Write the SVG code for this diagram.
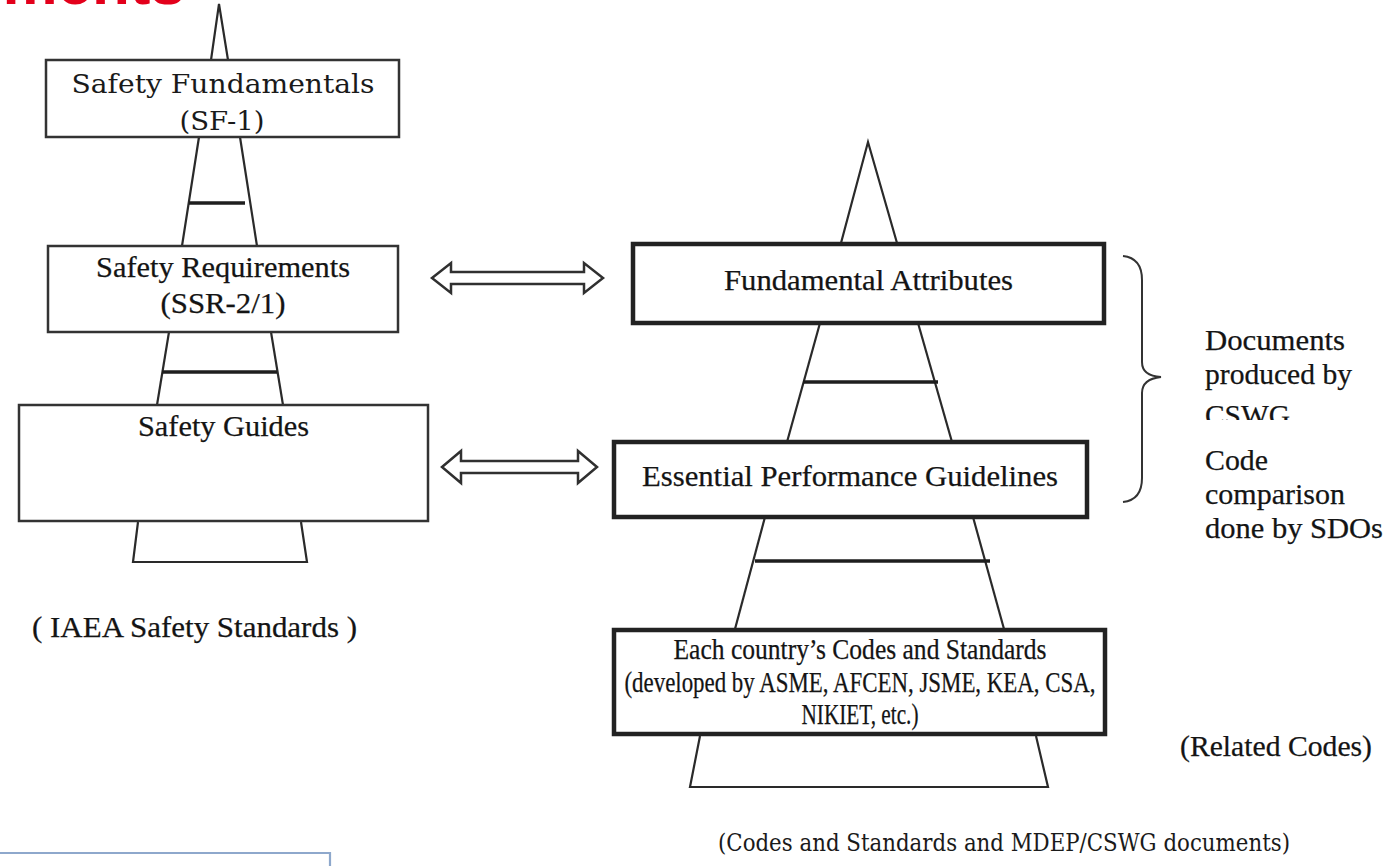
<svg xmlns="http://www.w3.org/2000/svg" width="1391" height="866" viewBox="0 0 1391 866">
  <style>
    .bg { fill: #ffffff; }
    .box { fill: #ffffff; stroke: #333333; stroke-width: 2.5; }
    .boxb { fill: #ffffff; stroke: #222222; stroke-width: 4.5; }
    .pl { fill: none; stroke: #2a2a2a; stroke-width: 2.2; }
    .bar { stroke: #1e1e1e; stroke-width: 3.5; }
    .t { font-family: "Liberation Serif", "Times New Roman", serif; fill: #141414; font-size: 30px; stroke: #141414; stroke-width: 0.25; }
    .tc { font-family: "DejaVu Serif", "Liberation Serif", serif; fill: #1a1a1a; }
    .arrow { fill: #ffffff; stroke: #303030; stroke-width: 2.5; stroke-linejoin: miter; }
    .brace { fill: none; stroke: #333333; stroke-width: 2; }
  </style>
  <defs>
    <clipPath id="cutLine">
      <rect x="1190" y="380" width="201" height="40"/>
    </clipPath>
  </defs>
  <rect class="bg" x="0" y="0" width="1391" height="866"/>

  <!-- cropped heading at the top edge -->
  <text x="185" y="4" text-anchor="end" font-family="Liberation Sans, Arial, sans-serif" font-weight="bold" font-size="62" fill="#e3001b">ments</text>

  <!-- left pyramid outline -->
  <g id="left-pyramid">
    <polyline class="pl" points="211,60 219,4 228,60"/>
    <line class="pl" x1="199" y1="137" x2="182" y2="246"/>
    <line class="pl" x1="240" y1="137" x2="257" y2="246"/>
    <line class="bar" x1="189" y1="203" x2="245" y2="203"/>
    <line class="pl" x1="169" y1="332" x2="157" y2="405"/>
    <line class="pl" x1="271" y1="332" x2="283" y2="405"/>
    <line class="bar" x1="162" y1="372" x2="277" y2="372" stroke-width="4.5"/>
    <polyline class="pl" points="138,522 133,562 307,562 301,522"/>
  </g>

  <g id="node-sf">
    <rect class="box" x="46" y="60" width="353" height="77"/>
    <text class="tc" x="223" y="93" text-anchor="middle" font-size="26" textLength="303" lengthAdjust="spacingAndGlyphs">Safety Fundamentals</text>
    <text class="tc" x="222" y="130" text-anchor="middle" font-size="26" textLength="85" lengthAdjust="spacingAndGlyphs">(SF-1)</text>
  </g>

  <g id="node-sr">
    <rect class="box" x="48" y="246" width="350" height="86"/>
    <text class="t" x="223" y="277" text-anchor="middle" textLength="254" lengthAdjust="spacingAndGlyphs">Safety Requirements</text>
    <text class="t" x="223" y="313" text-anchor="middle" textLength="125" lengthAdjust="spacingAndGlyphs">(SSR-2/1)</text>
  </g>

  <g id="node-sg">
    <rect class="box" x="19" y="405" width="409" height="116"/>
    <text class="t" x="223.5" y="436" text-anchor="middle" textLength="171" lengthAdjust="spacingAndGlyphs">Safety Guides</text>
  </g>

  <g id="label-iaea">
    <text class="t" x="32" y="637" textLength="325" lengthAdjust="spacingAndGlyphs">( IAEA Safety Standards )</text>
  </g>

  <!-- right pyramid outline -->
  <g id="right-pyramid">
    <polyline class="pl" points="841,243 868,142 897,243"/>
    <line class="pl" x1="820" y1="323" x2="787" y2="442"/>
    <line class="pl" x1="918" y1="323" x2="952" y2="442"/>
    <line class="bar" x1="803" y1="382" x2="938" y2="382"/>
    <line class="pl" x1="765" y1="517" x2="735" y2="629"/>
    <line class="pl" x1="973" y1="517" x2="1004" y2="629"/>
    <line class="bar" x1="755" y1="561" x2="990" y2="561"/>
    <polyline class="pl" points="700,736 690,787 1048,787 1036,736"/>
  </g>

  <g id="node-fa">
    <rect class="boxb" x="633" y="244" width="471" height="79"/>
    <text class="t" x="868.5" y="290" text-anchor="middle" textLength="289" lengthAdjust="spacingAndGlyphs">Fundamental Attributes</text>
  </g>

  <g id="node-epg">
    <rect class="boxb" x="614" y="442" width="473" height="75"/>
    <text class="t" x="850" y="486" text-anchor="middle" textLength="416" lengthAdjust="spacingAndGlyphs">Essential Performance Guidelines</text>
  </g>

  <g id="node-codes">
    <rect class="boxb" x="614" y="630" width="491" height="104"/>
    <text class="t" x="860" y="659" text-anchor="middle" font-size="29" textLength="373" lengthAdjust="spacingAndGlyphs">Each country’s Codes and Standards</text>
    <text class="t" x="860" y="692" text-anchor="middle" font-size="29" textLength="471" lengthAdjust="spacingAndGlyphs">(developed by ASME, AFCEN, JSME, KEA, CSA,</text>
    <text class="t" x="860" y="724" text-anchor="middle" font-size="29" textLength="117" lengthAdjust="spacingAndGlyphs">NIKIET, etc.)</text>
  </g>

  <g id="label-related">
    <text class="t" x="1180" y="756" font-size="30" textLength="192" lengthAdjust="spacingAndGlyphs">(Related Codes)</text>
  </g>

  <g id="label-codes-standards">
    <text class="tc" x="718" y="851" font-size="25" textLength="572" lengthAdjust="spacingAndGlyphs">(Codes and Standards and MDEP/CSWG documents)</text>
  </g>

  <!-- brace and its notes -->
  <g id="brace-notes">
    <path class="brace" d="M1123,256 Q1142,258 1142,280 L1142,362 Q1142,376 1161,377 Q1142,379 1142,393 L1142,478 Q1142,500 1123,502"/>
    <text class="t" x="1205" y="350" font-size="28" textLength="140" lengthAdjust="spacingAndGlyphs">Documents</text>
    <text class="t" x="1205" y="384" font-size="28" textLength="147" lengthAdjust="spacingAndGlyphs">produced by</text>
    <text class="t" x="1205" y="425" font-size="28" textLength="85" lengthAdjust="spacingAndGlyphs" clip-path="url(#cutLine)">CSWG</text>
    <text class="t" x="1205" y="470" font-size="28" textLength="63" lengthAdjust="spacingAndGlyphs">Code</text>
    <text class="t" x="1205" y="504" font-size="28" textLength="140" lengthAdjust="spacingAndGlyphs">comparison</text>
    <text class="t" x="1205" y="538" font-size="28" textLength="178" lengthAdjust="spacingAndGlyphs">done by SDOs</text>
  </g>

  <!-- two-way links between the two hierarchies -->
  <g id="connectors">
    <path class="arrow" d="M432,278 L451,263 L451,272 L584,272 L584,263 L603,278 L584,293 L584,284 L451,284 L451,293 Z"/>
    <path class="arrow" d="M442,467 L461,451 L461,461 L578,461 L578,451 L597,467 L578,483 L578,473 L461,473 L461,483 Z"/>
  </g>

  <!-- edge of a panel at the bottom left -->
  <path d="M0,853 L330,853 L330,866" fill="none" stroke="#8ea8cc" stroke-width="2.2"/>
</svg>
